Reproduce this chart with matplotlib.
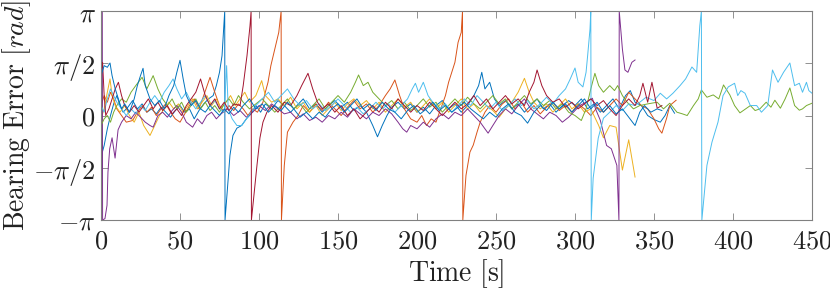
import matplotlib
matplotlib.use("Agg")
import matplotlib.pyplot as plt
import numpy as np

PI = 3.14159

# bearing error traces, (time [s], error [rad])
blue1 = [(0, -1.25), (2, -0.9), (4, -0.4), (6, 0.0), (8, 0.35), (10, 0.6), (12, 0.3), (14, 0.1),
         (17, 0.25), (20, 0.45), (23, 0.2), (26, 0.35), (29, 0.1), (32, 0.2), (35, 0.05), (38, 0.25),
         (41, 0.1), (44, -0.05), (47, 0.15), (50, 0.3), (53, 0.1), (56, 0.2), (59, -0.1), (62, 0.15),
         (65, 0.35), (68, 0.5), (71, 0.6), (73, 0.9), (75, 1.3), (76.6, 1.8), (78.3, PI), (78.5, -PI),
         (79.7, -2.4), (81.6, -1.2), (83.5, -0.6), (86, -0.38), (89, -0.3), (92, -0.1), (95, 0.05),
         (98, 0.3), (101, 0.1), (104, 0.35), (108, 0.2), (112, 0.45), (116, 0.3), (120, 0.1),
         (124, 0.3), (128, 0.5), (132, 0.2), (136, 0.35), (140, 0.1), (144, 0.3), (148, 0.45),
         (152, 0.25), (156, 0.4), (160, 0.15), (164, 0.3), (168, 0.1), (172, -0.3), (175, -0.64),
         (178, -0.3), (181, 0.0), (184, 0.25), (188, 0.4), (192, 0.2), (196, 0.35), (200, 0.1),
         (204, 0.25), (208, 0.05), (212, 0.3), (216, 0.45), (220, 0.2), (224, 0.35), (228, 0.1),
         (232, 0.3), (236, 0.6), (239, 0.9), (241, 1.3), (243, 0.8), (246, 1.0), (249, 0.5),
         (252, 0.3), (256, 0.45), (260, 0.2), (264, 0.35), (268, 0.1), (272, 0.3), (276, 0.5),
         (280, 0.2), (284, 0.35), (288, 0.1), (292, 0.3), (296, 0.45), (300, 0.3), (304, 0.5),
         (308, 0.2), (312, 0.35), (316, 0.1), (320, 0.3), (324, 0.5), (328, 0.2), (332, 0.6),
         (335, 0.75), (338, 0.4), (342, 0.3), (346, 0.0), (350, -0.12), (354, -0.2), (357, 0.0),
         (360, 0.3), (363, 0.07)]

orange = [(0, 0.3), (2, 0.6), (4, 0.4), (6, 0.7), (8, 0.5), (10, 0.2), (13, 0.0), (16, -0.2),
          (20, -0.15), (23, 0.1), (26, 0.3), (29, 0.1), (32, 0.25), (35, 0.0), (38, 0.2), (41, 0.35),
          (44, 0.1), (47, -0.1), (50, -0.2), (53, 0.05), (56, 0.3), (59, 0.5), (62, 0.2), (65, 0.6),
          (69, 1.15), (72, 0.7), (75, 0.3), (78, 0.1), (81, 0.3), (84, 0.15), (87, 0.35), (90, 0.2),
          (93, 0.0), (96, 0.2), (99, 0.1), (102.5, 0.4), (104, 0.7), (105.7, 1.0), (107.5, 1.5),
          (109, 1.8), (111, 2.2), (112.5, 2.5), (114, PI), (114.2, -PI), (116, -1.5), (118, -0.5),
          (121.5, -0.2), (124.7, 0.0), (128, 0.3), (132, 0.1), (136, 0.35), (140, 0.15), (144, 0.4),
          (148, 0.2), (152, 0.0), (156, 0.25), (160, 0.45), (164, 0.2), (168, 0.35), (172, 0.1),
          (176, 0.3), (180, 0.6), (183, 0.8), (186, 1.07), (189, 0.6), (192, 0.2), (196, -0.1),
          (200, -0.2), (203, 0.0), (206, -0.3), (209, -0.1), (212, -0.2), (215, 0.2), (218, 0.6),
          (220, 1.0), (222, 1.3), (224, 1.6), (226, 2.2), (228, 2.5), (228.8, PI), (229, -PI),
          (231, -1.8), (233.5, -1.1), (235.6, -0.89), (238, -0.5), (240, -0.2), (243, 0.1),
          (246, 0.3), (250, 0.1), (254, 0.35), (258, 0.5), (262, 0.2), (266, 0.4), (270, 0.1),
          (274, 0.3), (278, 0.05), (282, 0.25), (286, 0.4), (290, 0.15), (294, 0.3), (298, 0.1),
          (302, 0.35), (306, 0.2), (310, 0.0), (314, 0.25), (318, 0.1), (322, 0.3), (326, 0.5),
          (330, 0.3), (334, 0.7), (338, 0.5), (342, 0.3), (346, 0.2), (350, -0.1), (353, -0.4),
          (355, -0.53), (358, -0.08), (360, 0.3), (364, 0.46)]

yellow = [(0, -0.1), (2, 0.2), (4, 0.7), (5.7, 1.1), (7, 0.6), (9, 0.3), (12, 0.1), (15, 0.3),
          (18, 0.0), (21, -0.2), (24, 0.1), (27, -0.3), (31, -0.6), (34, -0.3), (37, 0.0), (40, 0.2),
          (43, 0.4), (46, 0.2), (49, 0.35), (52, 0.1), (55, 0.3), (58, 0.5), (61, 0.2), (64, 0.4),
          (67, 0.6), (70, 0.3), (73, 0.5), (76, 0.2), (79, 0.4), (82, 0.6), (85, 0.3), (88, 0.5),
          (91, 0.7), (94, 0.4), (98, 0.6), (101.7, 1.05), (104, 0.6), (108, 0.4), (112, 0.5),
          (116, 0.3), (120, 0.55), (124, 0.2), (128, 0.4), (132, 0.1), (136, 0.3), (140, 0.0),
          (144, 0.2), (148, 0.4), (152, 0.15), (156, 0.35), (160, 0.5), (164, 0.3), (168, 0.45),
          (172, 0.2), (176, 0.4), (180, 0.1), (184, 0.3), (188, 0.5), (192, 0.25), (196, 0.4),
          (200, 0.1), (204, 0.3), (208, 0.5), (212, 0.2), (216, 0.4), (220, 0.1), (224, 0.3),
          (228, 0.5), (232, 0.2), (236, 0.35), (240, 0.1), (244, 0.3), (248, 0.15), (252, -0.05),
          (256, 0.2), (260, 0.4), (264, 0.7), (268, 1.12), (271, 0.7), (274, 0.4), (278, 0.2),
          (282, 0.35), (286, 0.1), (290, 0.3), (294, 0.5), (298, 0.2), (302, 0.35), (306, 0.1),
          (310, 0.2), (313, -0.1), (315, -0.3), (318, -0.67), (322, -0.3), (326, -0.35),
          (330, -1.64), (334, -0.73), (338, -1.85)]

purple = [(0, 2.6), (0.8, PI), (1.0, -PI), (2.5, -3.1), (3.8, -2.7), (4.4, -1.7), (5.5, -1.0),
          (7, -0.67), (8.9, -1.28), (10.8, -0.43), (13, -0.2), (16, 0.0), (19, -0.1), (22, 0.1),
          (25, -0.05), (28, -0.2), (31, -0.3), (33, -0.35), (36, 0.0), (39, 0.1), (42, -0.05),
          (45, 0.15), (48, 0.3), (51, 0.1), (54, -0.2), (58, -0.35), (61, -0.1), (64, -0.25),
          (67, 0.0), (70, 0.1), (73, -0.1), (76, 0.05), (80, 0.2), (84, 0.0), (88, 0.15), (92, -0.05),
          (96, 0.1), (100, 0.3), (104, 0.15), (108, 0.35), (112, 0.2), (116, 0.05), (120, 0.1),
          (124, -0.1), (128, 0.05), (132, -0.15), (136, -0.05), (140, -0.2), (144, 0.0), (148, -0.1),
          (152, 0.1), (156, -0.05), (160, 0.2), (164, 0.05), (168, -0.1), (172, 0.1), (176, 0.0),
          (180, 0.2), (184, 0.05), (188, -0.2), (191, -0.4), (193.5, -0.5), (196, -0.3), (200, -0.4),
          (204, -0.2), (208, -0.35), (212, -0.1), (216, 0.05), (220, -0.1), (224, 0.1), (228, 0.0),
          (232, 0.2), (236, 0.0), (240, -0.2), (243, -0.4), (245, -0.53), (248, -0.3), (252, 0.0),
          (256, 0.2), (260, 0.05), (264, 0.3), (268, 0.5), (272, 0.2), (276, 0.05), (280, -0.1),
          (284, 0.1), (288, 0.0), (292, -0.2), (296, -0.05), (300, 0.15), (303, 0.3), (307, 0.4),
          (311, 0.52), (313, 0.2), (316, -0.14), (320, -0.9), (323, -1.0), (326.5, -1.5),
          (327.8, -PI), (328, PI), (330, 2.0), (331.6, 1.37), (333.5, 1.3), (336, 1.6), (338, 1.67)]

green = [(0, -0.3), (2, -0.1), (4, 0.0), (6, -0.2), (8, 0.1), (10, 0.3), (13, 0.5), (16, 0.4),
         (19, 0.7), (22, 0.9), (26, 1.15), (29, 0.8), (33, 1.2), (36, 0.8), (39, 0.5), (42, 0.3),
         (45, 0.5), (48, 0.2), (51, 0.4), (54, 0.1), (57, 0.3), (60, 0.5), (63, 0.2), (66, 0.4),
         (69, 0.15), (72, 0.3), (75, 0.1), (78, 0.35), (81, 0.5), (84, 0.3), (87, 0.6), (90, 0.4),
         (94, 0.2), (98, 0.35), (102, 0.5), (106, 0.3), (110, 0.1), (114, 0.3), (118, 0.5),
         (122, 0.2), (126, 0.35), (130, 0.1), (134, 0.3), (138, 0.5), (142, 0.2), (146, 0.4),
         (150, 0.6), (154, 0.4), (158, 0.7), (161, 1.0), (163, 1.22), (166, 0.9), (169, 1.0),
         (172, 0.7), (176, 0.5), (180, 0.3), (184, 0.45), (188, 0.2), (192, 0.4), (196, 0.15),
         (200, 0.3), (204, 0.5), (208, 0.25), (212, 0.4), (216, 0.1), (220, 0.3), (224, 0.5),
         (228, 0.3), (232, 0.55), (236, 0.35), (240, 0.2), (244, 0.4), (248, 0.6), (252, 0.35),
         (256, 0.5), (260, 0.2), (264, 0.4), (268, 0.6), (272, 0.35), (276, 0.5), (280, 0.3),
         (284, 0.45), (288, 0.2), (292, 0.35), (296, 0.1), (300, 0.0), (304, -0.15), (307, 0.2),
         (310, 0.8), (312.6, 1.27), (315, 0.9), (318, 0.7), (322, 0.9), (325, 0.75), (327, 0.9),
         (330, 0.6), (333, 0.4), (337, 0.2), (341, 0.3), (346, 0.35), (352, 0.4), (356, 0.2),
         (360, 0.37), (364.5, 0.1), (368, 0.05), (371, 0.0), (375, 0.3), (378, 0.5), (380, 0.77),
         (383.5, 0.55), (387.5, 0.62), (391, 0.5), (394, 0.92), (398, 0.62), (401, 0.3),
         (404.4, 0.08), (408, 0.2), (411, 0.3), (414, 0.15), (417, 0.2), (421, 0.4), (424, 0.25),
         (426.5, 0.46), (430, 0.22), (433, 0.5), (436, 0.83), (439, 0.3), (442, 0.16), (444, 0.2),
         (446.5, 0.3), (450, 0.37)]

lightblue = [(0, 0.3), (2, 0.1), (4, 0.5), (6, 0.8), (8, 0.6), (10, 0.4), (13, 0.2), (16, 0.0),
             (19, 0.2), (22, 0.05), (25, 0.3), (28, 0.15), (31, 0.4), (34, 0.6), (37, 0.4),
             (40, 0.7), (43, 0.9), (45.6, 1.1), (48, 0.8), (51, 0.5), (54, 0.7), (57, 0.4),
             (60, 0.2), (63, 0.4), (66, 0.6), (69, 0.3), (72, 0.45), (75, 0.2), (78, 0.1),
             (79.5, 1.5), (80.5, 0.2), (83, -0.1), (86, -0.3), (89, -0.3), (92, -0.1), (95, 0.1),
             (98, 0.3), (102, 0.5), (106, 0.7), (110, 0.4), (114, 0.6), (118, 0.8), (122, 0.5),
             (126, 0.3), (130, 0.45), (134, 0.2), (138, 0.35), (142, 0.15), (146, 0.3), (150, 0.5),
             (154, 0.3), (158, 0.1), (162, 0.25), (166, 0.05), (170, 0.2), (174, 0.4), (178, 0.2),
             (182, 0.35), (186, 0.1), (190, 0.3), (194, 0.5), (197, 0.8), (199, 0.97), (201, 0.7),
             (204, 1.0), (207, 0.6), (210, 0.4), (214, 0.2), (218, 0.35), (222, 0.1), (226, 0.3),
             (230, 0.5), (234, 0.3), (238, 0.6), (242, 0.4), (246, 0.2), (250, 0.4), (254, 0.15),
             (258, 0.3), (262, 0.5), (266, 0.3), (270, 0.45), (274, 0.2), (278, 0.35), (282, 0.55),
             (286, 0.35), (290, 0.6), (294, 0.8), (297, 1.1), (300, 1.43), (302, 1.0), (305, 0.86),
             (307, 1.3), (308, 1.8), (309.5, 2.6), (310, PI), (310.3, -PI), (311.5, -1.88),
             (314.7, -0.68), (318, -0.08), (322, 0.1), (326, 0.3), (330, 0.15), (334, 0.35),
             (338, 0.3), (341, 0.4), (345, 0.55), (350, 0.45), (354, 0.67), (358, 0.5), (362, 0.67),
             (366.5, 0.9), (370, 1.1), (374, 1.46), (377, 1.3), (379, 2.7), (380, PI), (380.3, -PI),
             (383.5, -1.5), (386.7, -0.8), (390.5, -0.2), (393.7, 0.6), (397, 0.86), (401, 0.97),
             (403, 0.6), (405, 0.75), (407.6, 0.67), (411, 0.3), (415, 0.3), (418, 0.1), (422, 0.3),
             (425, 1.37), (428.5, 1.0), (432, 1.3), (436, 1.58), (439, 0.9), (442, 0.97), (444, 0.7),
             (446.5, 1.0), (448, 0.75), (450, 0.67)]

darkred = [(0, 1.3), (1, 1.6), (2, 0.6), (3, 0.0), (5, 0.2), (7, 0.5), (9, 0.8), (11, 1.0),
           (13, 0.6), (15, 0.3), (18, 0.1), (21, 0.3), (24, 0.1), (27, 0.3), (30, 0.5), (33, 0.2),
           (36, 0.4), (39, 0.15), (42, 0.3), (45, 0.05), (48, 0.2), (51, 0.0), (54, 0.3), (57, 0.5),
           (60, 0.7), (63, 1.1), (66, 0.6), (69, 0.3), (72, 0.5), (75, 0.2), (78, 0.4), (81, 0.15),
           (84, 0.35), (88, 0.3), (90, 0.9), (92.4, 1.8), (94.3, 2.7), (95, PI), (95.2, -PI),
           (97, -2.3), (98.7, -1.5), (100.6, -0.67), (102.5, -0.2), (105, 0.1), (108, 0.3),
           (112, 0.1), (116, 0.4), (120, 0.3), (124, 0.6), (127, 0.9), (131, 1.27), (134, 0.8),
           (137, 0.4), (140, 0.2), (144, 0.35), (148, 0.1), (152, 0.3), (156, 0.0), (160, 0.2),
           (164, -0.1), (168, 0.1), (172, 0.3), (176, 0.1), (180, 0.4), (184, 0.2), (188, 0.5),
           (192, 0.3), (196, 0.1), (200, 0.3), (204, 0.15), (208, 0.4), (212, 0.2), (216, 0.0),
           (220, 0.2), (224, 0.4), (228, 0.2), (232, 0.35), (236, 0.6), (240, 0.3), (244, 0.5),
           (248, 0.2), (252, 0.4), (256, 0.6), (260, 0.35), (264, 0.5), (268, 0.3), (271, 0.7),
           (274, 1.0), (276, 1.37), (279, 0.9), (282, 0.6), (286, 0.4), (290, 0.5), (294, 0.25),
           (298, 0.4), (302, 0.2), (306, 0.35), (310, 0.5), (314, 0.3), (318, 0.45), (322, 0.2),
           (326, 0.0), (330, 0.3), (334, 0.5), (338, 0.3), (341, 0.6), (343, 0.97), (346, 0.4),
           (348.7, 1.0), (352, 0.22), (355, 0.3)]

blue2 = [(0, 1.2), (2, 1.5), (4, 1.45), (5.7, 1.58), (7, 1.2), (9, 0.8), (11, 0.5), (13, 0.2),
         (15, 0.35), (18, 0.1), (21, 0.5), (23, 0.9), (25, 1.2), (26.6, 1.42), (28, 0.9), (31, 0.5),
         (34, 0.3), (37, 0.45), (40, 0.2), (43, 0.6), (46, 0.9), (48, 1.3), (50, 1.66), (52, 1.1),
         (54, 0.6), (57, 0.3), (60, 0.45), (63, 0.2), (66, 0.1), (69, 0.3), (72, 0.15), (75, 0.0),
         (78, 0.2), (81, 0.05), (84, 0.25), (87, 0.1), (90, 0.3), (94, 0.5), (98, 0.2), (102, 0.35),
         (106, 0.1), (110, 0.3), (114, 0.15), (118, 0.4), (122, 0.2), (126, -0.05), (130, 0.1),
         (134, -0.1), (138, 0.1), (142, -0.05), (146, 0.2), (150, 0.35), (154, 0.1), (158, 0.3),
         (162, 0.5), (166, 0.2), (170, 0.35), (174, 0.15), (178, 0.4), (182, 0.2), (186, 0.1),
         (190, -0.1), (194, 0.15), (198, 0.3), (202, 0.05), (206, 0.2), (210, 0.4), (214, 0.15),
         (218, 0.3), (222, 0.1), (226, 0.25), (230, 0.4), (234, 0.2), (238, 0.05), (242, -0.1),
         (246, 0.1), (250, -0.05), (254, 0.2), (258, 0.35), (262, 0.1), (266, 0.0), (270, -0.23),
         (274, 0.1), (278, 0.3), (282, 0.15), (286, 0.4), (290, 0.2), (294, 0.35), (298, 0.1),
         (302, 0.3), (306, 0.5), (310, 0.2), (314, 0.4), (318, 0.1), (322, 0.3), (326, 0.05),
         (330, 0.2), (334, -0.05), (338, -0.3), (341, 0.1), (344, 0.3), (348, 0.1), (352, 0.2),
         (355, 0.15)]

series = [blue1, orange, yellow, purple, green, lightblue, darkred, blue2]
# matlab default colour order
colors = ['#0072BD', '#D95319', '#EDB120', '#7E2F8E', '#77AC30', '#4DBEEE', '#A2142F', '#0072BD']

plt.rcParams['mathtext.fontset'] = 'cm'
plt.rcParams['font.family'] = 'serif'

fig = plt.figure(figsize=(8.3, 2.91), dpi=100)
ax = fig.add_axes([0.1217, 0.244, 0.8566, 0.718])

for s, c in zip(series, colors):
    t = np.array([p[0] for p in s])
    y = np.array([p[1] for p in s])
    ax.plot(t, y, color=c, lw=0.7)

ax.set_xlim(0, 450)
ax.set_ylim(-np.pi, np.pi)
ax.set_xticks(np.arange(0, 451, 50))
ax.set_xticklabels([r'$%d$' % v for v in range(0, 451, 50)])
ax.set_yticks([-np.pi, -np.pi / 2, 0, np.pi / 2, np.pi])
ax.set_yticklabels([r'$-\pi$', r'$-\pi/2$', r'$0$', r'$\pi/2$', r'$\pi$'])
ax.tick_params(direction='in', top=True, right=True, length=5, width=0.6,
               color='#808080', labelsize=19, labelcolor='#222222')
ax.tick_params(axis='x', pad=6)
ax.tick_params(axis='y', pad=4)
for sp in ax.spines.values():
    sp.set_color('#808080')
    sp.set_linewidth(0.8)

ax.set_xlabel(r'$\mathrm{Time\ [s]}$', fontsize=20, color='#222222', labelpad=3)
ax.set_ylabel(r'$\mathrm{Bearing\ Error}\ [rad]$', fontsize=20, color='#222222', labelpad=0)

fig.savefig('out.png', dpi=100)
